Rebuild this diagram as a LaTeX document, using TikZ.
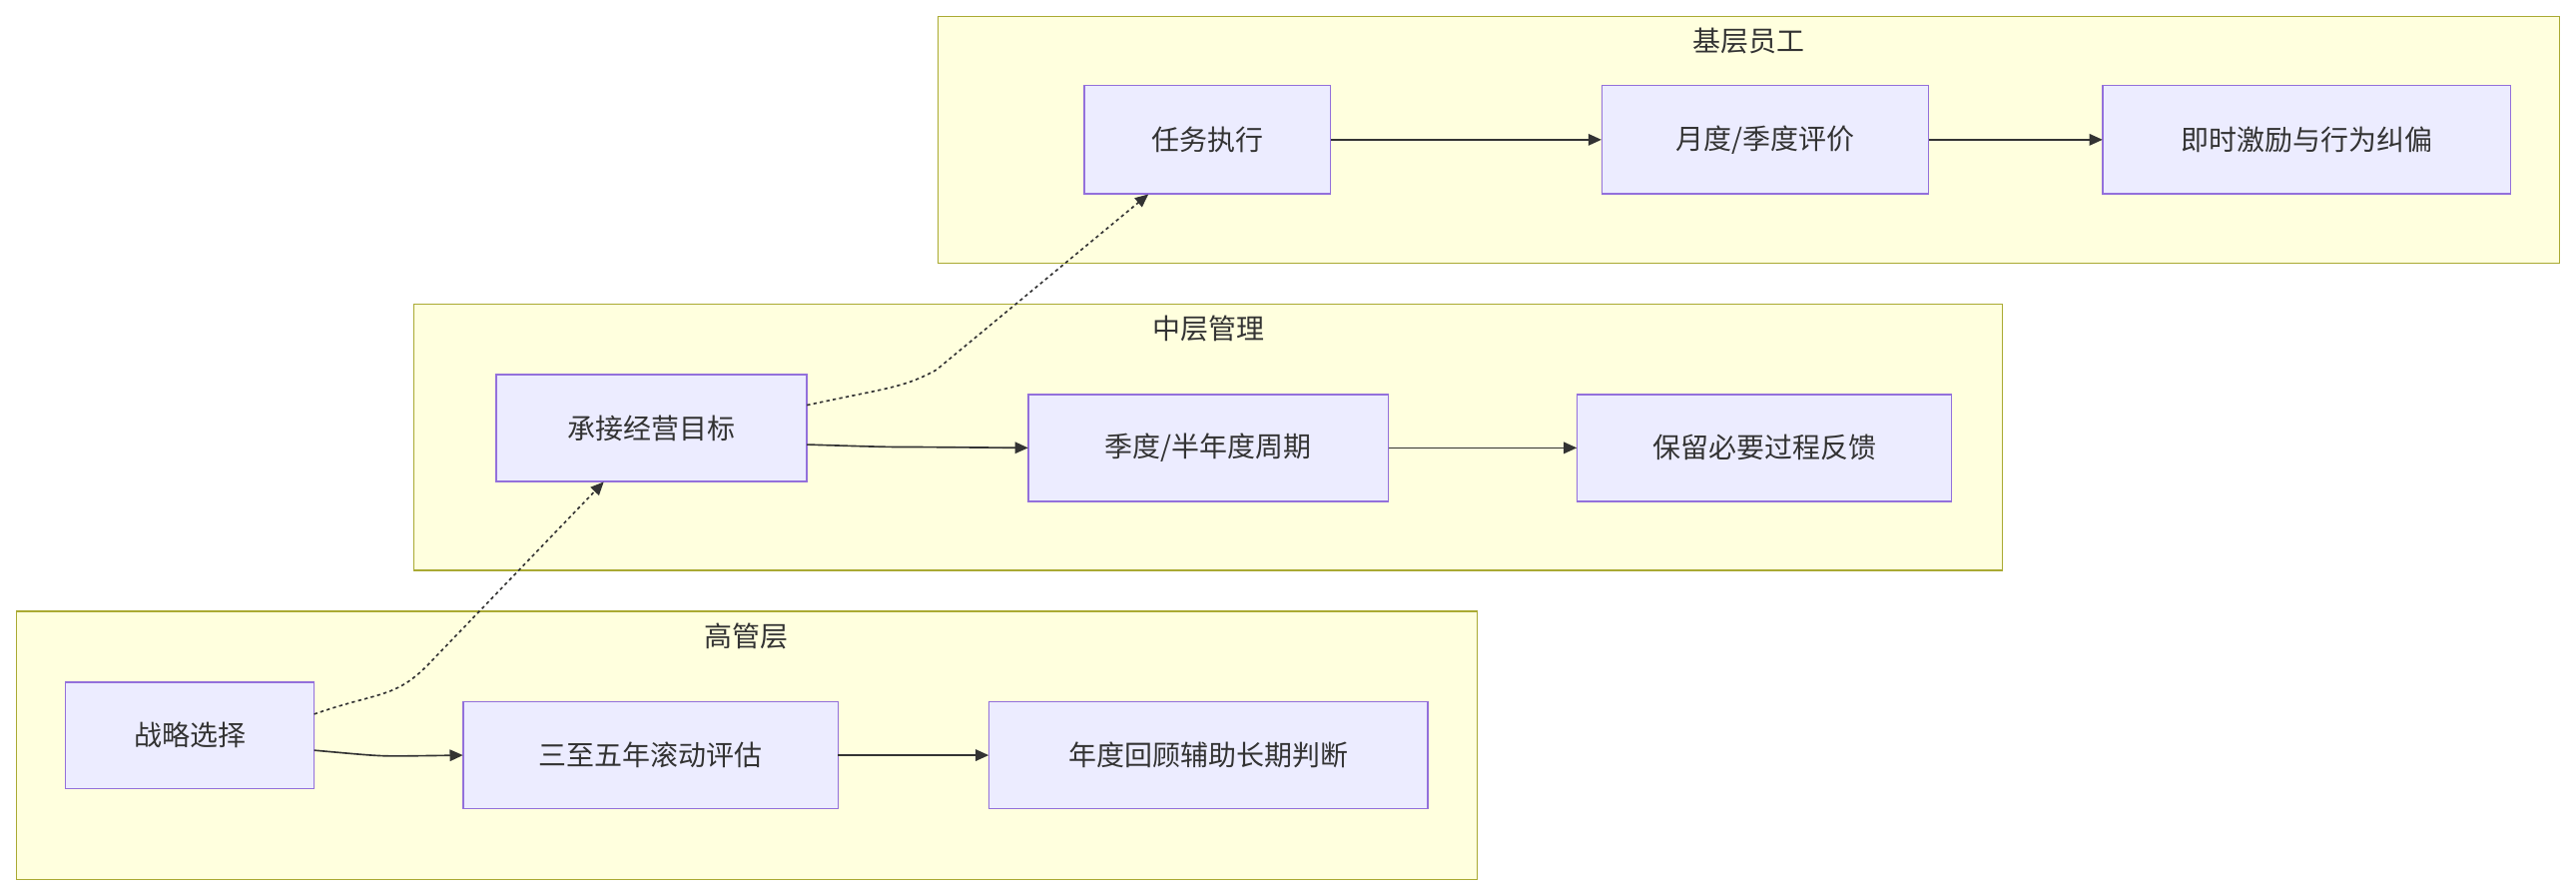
\documentclass[tikz,border=0pt]{standalone}
\usepackage{fontspec}
\setmainfont{Noto Sans CJK SC}
\usetikzlibrary{arrows.meta}
\definecolor{cf}{HTML}{FFFFDE}\definecolor{cs}{HTML}{AAAA33}
\definecolor{nf}{HTML}{ECECFF}\definecolor{ns}{HTML}{9370DB}
\definecolor{ln}{HTML}{333333}
\begin{document}
\begin{tikzpicture}[x=1pt,y=-1pt,
 clu/.style={draw=cs,fill=cf,line width=0.8pt},
 box/.style={draw=ns,fill=nf,line width=0.8pt},
 lab/.style={font=\fontsize{17}{20}\selectfont,text=ln},
 ar/.style={draw=ln,line width=1pt,-{Triangle[length=8pt,width=7pt]}},
 dar/.style={ar,dash pattern=on 2pt off 2pt}]
\useasboundingbox (0,0) rectangle (1568,545);
\fill[white] (0,0) rectangle (1568,545);
% clusters
\draw[clu] (571,10) rectangle (1558,160);
\node[lab] (c1) at (1064.5,25) {基层员工};
\draw[clu] (252,185) rectangle (1219,347);
\node[lab] (c2) at (735.5,200) {中层管理};
\draw[clu] (10,372) rectangle (899,535);
\node[lab] (c3) at (454.5,387) {高管层};
% nodes
\newcommand{\bx}[6]{\draw[box] (#2,#3) rectangle (#4,#5);
 \node[lab,minimum width=#4pt-#2pt,minimum height=#5pt-#3pt,inner sep=0pt] (#1) at ({(#2+#4)/2},{(#3+#5)/2}) {#6};}
\bx{a}{660}{52}{810}{118}{任务执行}
\bx{b}{975}{52}{1174}{118}{月度/季度评价}
\bx{c}{1280}{52}{1528}{118}{即时激励与行为纠偏}
\bx{d}{302}{228}{491}{293}{承接经营目标}
\bx{e}{626}{240}{845}{305}{季度/半年度周期}
\bx{f}{960}{240}{1188}{305}{保留必要过程反馈}
\bx{g}{40}{415}{191}{480}{战略选择}
\bx{h}{282}{427}{510}{492}{三至五年滚动评估}
\bx{i}{602}{427}{869}{492}{年度回顾辅助长期判断}
% edges
\draw[ar] (a.east) -- (b.west);
\draw[ar] (b.east) -- (c.west);
\draw[ar] (e.east) -- (f.west);
\draw[ar] (h.east) -- (i.west);
\draw[ar] ([yshift=-10pt]d.east) .. controls (540,272) .. (560,272) -- (e.west);
\draw[ar] ([yshift=-9pt]g.east) .. controls (230,460) .. (245,460) -- (h.west);
\draw[dar] ([yshift=13pt]g.east) .. controls (230,421) and (240,425) .. (260,405) -- ([xshift=-29pt]d.south);
\draw[dar] ([yshift=14pt]d.east) .. controls (540,236) and (550,236) .. (570,225) -- ([xshift=-36pt]a.south);
\end{tikzpicture}
\end{document}
